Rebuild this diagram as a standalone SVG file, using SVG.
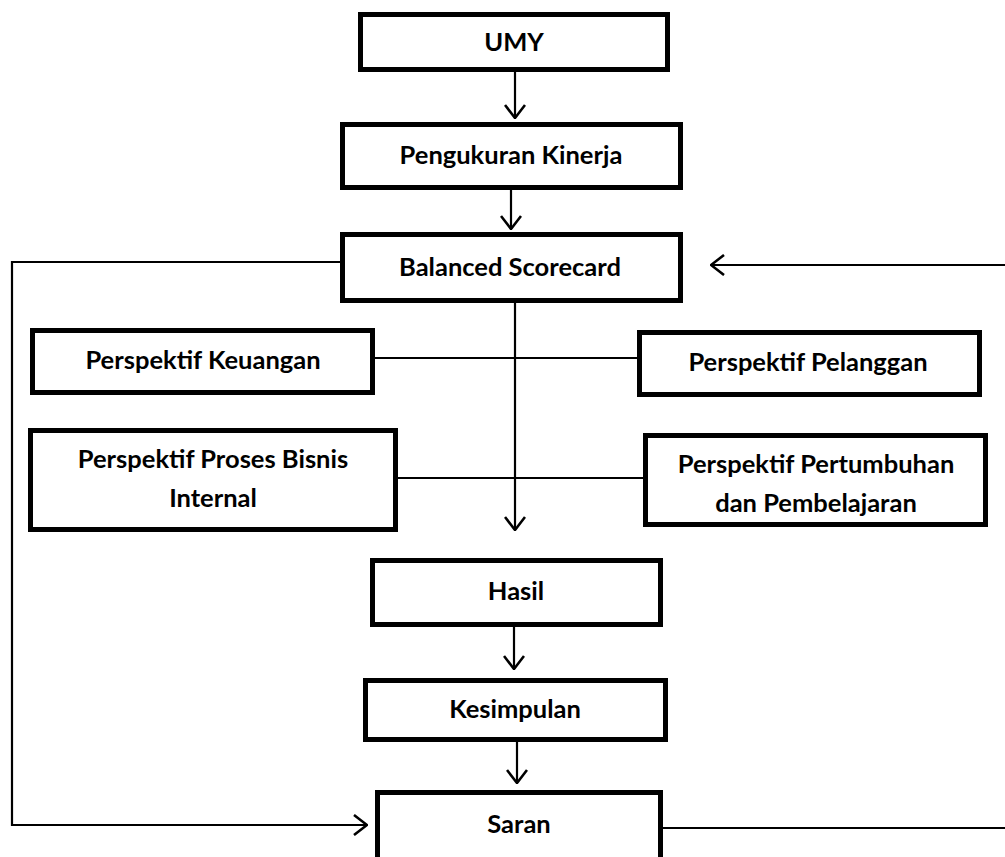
<svg xmlns="http://www.w3.org/2000/svg" width="1005" height="857" viewBox="0 0 1005 857">
<defs>
<style>
.box{fill:#fff;stroke:#000;stroke-width:5}
.t{font-family:Lato,"Open Sans","Liberation Sans",sans-serif;font-weight:700;font-size:25.5px;fill:#000;text-anchor:middle}
.c{fill:none;stroke:#000;stroke-width:2.2}
</style>
<marker id="arr" viewBox="0 0 15 22" refX="14" refY="11" markerWidth="15" markerHeight="22" markerUnits="userSpaceOnUse" orient="auto">
<path d="M1,1 L14,11 L1,21" fill="none" stroke="#000" stroke-width="2.6"/>
</marker>
</defs>
<rect width="1005" height="857" fill="#fff"/>
<g id="connectors">
<line class="c" x1="515" y1="72" x2="515" y2="118" marker-end="url(#arr)"/>
<line class="c" x1="511" y1="190" x2="511" y2="229" marker-end="url(#arr)"/>
<line class="c" x1="515" y1="303" x2="515" y2="530" marker-end="url(#arr)"/>
<line class="c" x1="375" y1="358" x2="637" y2="358"/>
<line class="c" x1="398" y1="478" x2="643" y2="478"/>
<polyline class="c" points="340,262 12,262 12,825 367,825" marker-end="url(#arr)"/>
<polyline class="c" points="663,828 1008,828 1008,265 711,265" marker-end="url(#arr)"/>
<line class="c" x1="514" y1="627" x2="514" y2="669" marker-end="url(#arr)"/>
<line class="c" x1="517" y1="742" x2="517" y2="783" marker-end="url(#arr)"/>
</g>
<g id="umy"><rect class="box" x="360.5" y="14.5" width="307" height="55"/><text class="t" x="514" y="51">UMY</text></g>
<g id="pengukuran"><rect class="box" x="342.5" y="124.5" width="338" height="63"/><text class="t" x="511" y="164">Pengukuran Kinerja</text></g>
<g id="bsc"><rect class="box" x="342.5" y="234.5" width="338" height="66"/><text class="t" x="510" y="276">Balanced Scorecard</text></g>
<g id="keuangan"><rect class="box" x="32.5" y="330.5" width="340" height="62"/><text class="t" x="203" y="369">Perspektif Keuangan</text></g>
<g id="pelanggan"><rect class="box" x="639.5" y="332.5" width="340" height="62"/><text class="t" x="808" y="371">Perspektif Pelanggan</text></g>
<g id="proses"><rect class="box" x="30.5" y="430.5" width="365" height="99"/><text class="t" x="213" y="468">Perspektif Proses Bisnis</text><text class="t" x="213" y="507">Internal</text></g>
<g id="pertumbuhan"><rect class="box" x="645.5" y="435.5" width="340" height="89"/><text class="t" x="816" y="473">Perspektif Pertumbuhan</text><text class="t" x="816" y="512">dan Pembelajaran</text></g>
<g id="hasil"><rect class="box" x="372.5" y="560.5" width="288" height="64"/><text class="t" x="516" y="600">Hasil</text></g>
<g id="kesimpulan"><rect class="box" x="365.5" y="680.5" width="300" height="59"/><text class="t" x="515" y="718">Kesimpulan</text></g>
<g id="saran"><rect class="box" x="377.5" y="792.5" width="283" height="72"/><text class="t" x="519" y="833">Saran</text></g>
</svg>
